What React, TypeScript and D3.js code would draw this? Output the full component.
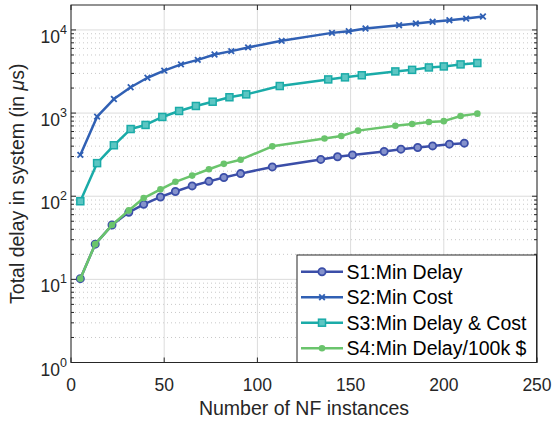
import * as d3 from "d3"

// S1: Min Delay
const s1X = [5, 13, 22, 31, 39, 48, 56, 65, 74, 82, 91, 108, 134, 143, 151, 168, 177, 186, 194, 203, 211]
const s1Y = [10.2, 26.5, 45, 64, 80, 98, 114, 133, 151, 168, 187, 225, 277, 298, 314, 345, 368, 386, 403, 423, 435]
// S2: Min Cost
const s2X = [5, 14, 23, 32, 41, 50, 59, 68, 77, 86, 95, 113, 140, 149, 158, 176, 185, 194, 203, 212, 221]
const s2Y = [314, 906, 1476, 2045, 2660, 3240, 3850, 4370, 5070, 5560, 6160, 7400, 9220, 9660, 10400, 11400, 11970, 12530, 13100, 13700, 14500]
// S3: Min Delay & Cost
const s3X = [5, 14, 23, 32, 40, 49, 58, 67, 76, 85, 94, 112, 138, 147, 156, 174, 183, 192, 200, 209, 218]
const s3Y = [87, 250, 410, 643, 720, 898, 1060, 1217, 1370, 1550, 1680, 2115, 2540, 2690, 2850, 3170, 3310, 3540, 3640, 3850, 4000]
// S4: Min Delay/100k $
const s4X = [5, 13, 22, 31, 39, 48, 56, 65, 74, 82, 91, 108, 136, 145, 154, 174, 183, 192, 200, 209, 218]
const s4Y = [10.2, 26.5, 45, 67.5, 95, 121, 149, 177, 211, 245, 275, 398, 495, 530, 615, 703, 740, 780, 800, 923, 985]

const xTicks = [0, 50, 100, 150, 200, 250]
const yDecades = [0, 1, 2, 3, 4]
const seriesNames = ["S1:Min Delay", "S2:Min Cost", "S3:Min Delay & Cost", "S4:Min Delay/100k $"]

const colors = ["#3b4ea8", "#3060b4", "#1aaba8", "#6ac46c"]
const markers = ["circle", "x", "square", "dot"]

const font = "Liberation Sans, Arial, sans-serif"
const ink = "#262626"

function Marker({ type, x, y, color }: { type: string; x: number; y: number; color: string }) {
    if (type === "circle")
        return <circle cx={x} cy={y} r={3.6} fill="#8592cc" stroke={color} strokeWidth={1.8} />
    if (type === "square")
        return <rect x={x - 3.5} y={y - 3.5} width={7} height={7} fill="#5cc6c3" stroke={color} strokeWidth={1.5} />
    if (type === "dot") return <circle cx={x} cy={y} r={3.3} fill={color} />
    return (
        <g stroke={color} strokeWidth={1.8}>
            <line x1={x - 2.8} y1={y - 2.8} x2={x + 2.8} y2={y + 2.8} />
            <line x1={x - 2.8} y1={y + 2.8} x2={x + 2.8} y2={y - 2.8} />
        </g>
    )
}

export default function App() {
    const width = 552
    const height = 424
    const left = 71
    const right = 537
    const top = 5
    const bottom = 362.5

    const x = d3.scaleLinear().domain([0, 250]).range([left, right])
    const y = d3.scaleLog().domain([1, Math.pow(10, 4.3)]).range([bottom, top])

    const series = [
        { xs: s1X, ys: s1Y },
        { xs: s2X, ys: s2Y },
        { xs: s3X, ys: s3Y },
        { xs: s4X, ys: s4Y },
    ]

    const line = d3
        .line<[number, number]>()
        .x((d) => x(d[0]))
        .y((d) => y(d[1]))

    // minor log ticks
    const minors: number[] = []
    for (let e = 0; e <= 4; e++) {
        for (let m = 2; m <= 9; m++) {
            const v = m * Math.pow(10, e)
            if (v < Math.pow(10, 4.3)) minors.push(v)
        }
    }

    const legX = 297
    const legY = 255
    const legW = 239.5
    const legH = 107.5

    return (
        <svg width={width} height={height} style={{ position: "absolute", left: 0, top: 0 }}>
            <rect x={0} y={0} width={width} height={height} fill="#fff" />
            {/* minor grid */}
            {minors.map((v) => (
                <line key={"mg" + v} x1={left} x2={right} y1={y(v)} y2={y(v)} stroke="#c8c8c8" strokeWidth={1} strokeDasharray="1,3" />
            ))}
            {/* major grid */}
            {yDecades.map((e) => (
                <line key={"yg" + e} x1={left} x2={right} y1={y(Math.pow(10, e))} y2={y(Math.pow(10, e))} stroke="#dcdcdc" strokeWidth={1} />
            ))}
            {xTicks.map((t) => (
                <line key={"xg" + t} x1={x(t)} x2={x(t)} y1={top} y2={bottom} stroke="#dcdcdc" strokeWidth={1} />
            ))}

            {/* series */}
            {series.map((s, i) => {
                const pts = s.xs.map((v, j) => [v, s.ys[j]] as [number, number])
                return (
                    <g key={i}>
                        <path d={line(pts) || ""} fill="none" stroke={colors[i]} strokeWidth={2.5} strokeLinejoin="round" />
                        {pts.map((p, j) => (
                            <Marker key={j} type={markers[i]} x={x(p[0])} y={y(p[1])} color={colors[i]} />
                        ))}
                    </g>
                )
            })}

            {/* frame & ticks */}
            <rect x={left} y={top} width={right - left} height={bottom - top} fill="none" stroke={ink} strokeWidth={1} />
            {xTicks.map((t) => (
                <g key={"xt" + t} stroke={ink}>
                    <line x1={x(t)} x2={x(t)} y1={bottom} y2={bottom - 5} />
                    <line x1={x(t)} x2={x(t)} y1={top} y2={top + 5} />
                </g>
            ))}
            {yDecades.map((e) => (
                <g key={"yt" + e} stroke={ink}>
                    <line x1={left} x2={left + 5} y1={y(Math.pow(10, e))} y2={y(Math.pow(10, e))} />
                    <line x1={right} x2={right - 5} y1={y(Math.pow(10, e))} y2={y(Math.pow(10, e))} />
                </g>
            ))}
            {minors.map((v) => (
                <g key={"mt" + v} stroke={ink}>
                    <line x1={left} x2={left + 3} y1={y(v)} y2={y(v)} />
                    <line x1={right} x2={right - 3} y1={y(v)} y2={y(v)} />
                </g>
            ))}

            {/* tick labels */}
            {xTicks.map((t) => (
                <text key={"xl" + t} x={x(t)} y={bottom + 28} textAnchor="middle" fontFamily={font} fontSize={17.5} fill={ink}>
                    {t}
                </text>
            ))}
            {yDecades.map((e) => (
                <text key={"yl" + e} x={left - 4} y={y(Math.pow(10, e)) + 13} textAnchor="end" fontFamily={font} fontSize={17.5} fill={ink}>
                    10
                    <tspan dy={-9} fontSize={12.5}>{e}</tspan>
                </text>
            ))}

            {/* axis labels */}
            <text x={(left + right) / 2} y={414.5} textAnchor="middle" fontFamily={font} fontSize={19.5} fill={ink}>
                Number of NF instances
            </text>
            <text
                transform={`translate(24,${(top + bottom) / 2}) rotate(-90)`}
                textAnchor="middle"
                fontFamily={font}
                fontSize={19.5}
                fill={ink}
            >
                Total delay in system (in <tspan fontStyle="italic">μ</tspan>s)
            </text>

            {/* legend */}
            <rect x={legX} y={legY} width={legW} height={legH} fill="#fff" stroke={ink} strokeWidth={1} />
            {seriesNames.map((n, i) => {
                const ly = legY + 16.7 + i * 25.5
                return (
                    <g key={n}>
                        <line x1={legX + 4} x2={legX + 46} y1={ly} y2={ly} stroke={colors[i]} strokeWidth={2.5} />
                        <Marker type={markers[i]} x={legX + 25} y={ly} color={colors[i]} />
                        <text x={legX + 49.5} y={ly + 7} fontFamily={font} fontSize={19.5} fill="#000">
                            {n}
                        </text>
                    </g>
                )
            })}
        </svg>
    )
}
